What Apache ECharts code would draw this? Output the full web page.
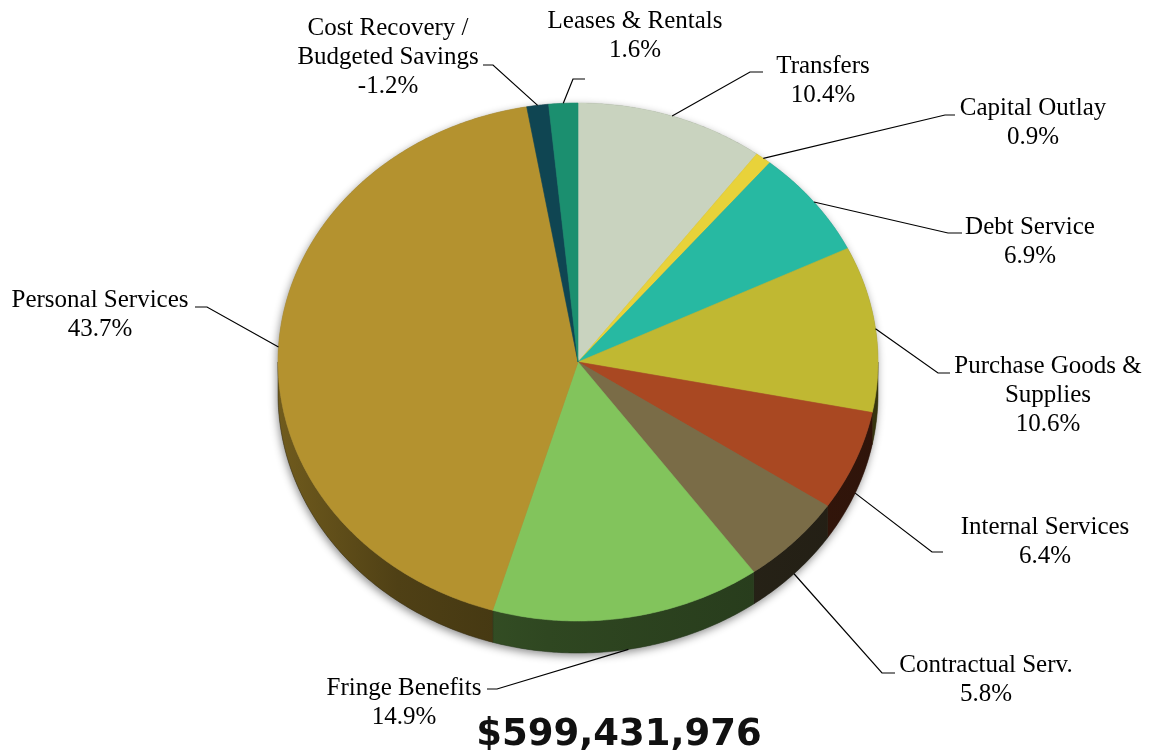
<!DOCTYPE html>
<html>
<head>
<meta charset="utf-8">
<script src="https://cdn.jsdelivr.net/npm/echarts@6/dist/echarts.min.js"></script>
<style>
  html, body { margin: 0; padding: 0; background: #ffffff; }
  #chart { width: 1151px; height: 754px; }
</style>
</head>
<body>
<div id="chart"></div>
<script>
// Budget shares by spending category, clockwise from 12 o'clock
const categories = [
  'Transfers',
  'Capital Outlay',
  'Debt Service',
  'Purchase Goods &\nSupplies',
  'Internal Services',
  'Contractual Serv.',
  'Fringe Benefits',
  'Personal Services',
  'Cost Recovery /\nBudgeted Savings',
  'Leases & Rentals'
];
const shares = [10.4, 0.9, 6.9, 10.6, 6.4, 5.8, 14.9, 43.7, -1.2, 1.6];
const totalLabel = '$599,431,976';

// Slice colours
const colors = [
  '#c9d3bf', '#e8d23a', '#27b9a2', '#c0b832', '#a94822',
  '#7a6c47', '#82c45c', '#b4922f', '#0f4552', '#1b8f6f'
];

// Label layout: centre x and centre y of the first text line
const labelPos = [
  [823, 66], [1033, 108], [1030, 227], [1048, 366], [1045, 527],
  [986, 665], [404, 688], [100, 300], [388, 28], [635, 21]
];
// Leader lines: elbow point and end of the short horizontal tail
const leaderElbow = [
  [750, 72], [945, 115], [948, 233], [938, 373], [932, 552],
  [882, 673], [497, 689], [207, 307], [493, 65], [573, 79]
];
const leaderEnd = [
  [763, 72], [955, 115], [962, 233], [950, 373], [943, 552],
  [895, 673], [487, 689], [195, 307], [483, 65], [585, 79]
];

// Tilted-disc geometry
const PIE = { cx: 578, cy: 362, rx: 300, ry: 259, depth: 32 };

const sizes = shares.map(v => Math.abs(v));

function arcs() {
  const sum = sizes.reduce((a, b) => a + b, 0);
  let acc = 0;
  return sizes.map(s => {
    const a0 = acc / sum * 360;
    acc += s;
    return [a0, acc / sum * 360];
  });
}
const ARCS = arcs();

// t: degrees clockwise from 12 o'clock on the tilted disc
function pt(t, dy) {
  const r = t * Math.PI / 180;
  return [PIE.cx + PIE.rx * Math.sin(r), PIE.cy - PIE.ry * Math.cos(r) + (dy || 0)];
}
function arcPoints(t0, t1, dy) {
  const pts = [];
  const n = Math.max(2, Math.ceil((t1 - t0) / 0.5));
  for (let i = 0; i <= n; i++) pts.push(pt(t0 + (t1 - t0) * i / n, dy));
  return pts;
}
function shade(hex, f) {
  const n = parseInt(hex.slice(1), 16);
  const r = Math.round(((n >> 16) & 255) * f);
  const g = Math.round(((n >> 8) & 255) * f);
  const b = Math.round((n & 255) * f);
  return 'rgb(' + r + ',' + g + ',' + b + ')';
}
function fmtPct(v) { return v.toFixed(1) + '%'; }

const chart = echarts.init(document.getElementById('chart'), null, { renderer: 'canvas' });

const seriesData = sizes.map((v, i) => ({ name: categories[i], value: v }));

chart.setOption({
  backgroundColor: '#ffffff',
  animation: false,
  graphic: [{
    type: 'text',
    x: 619,
    y: 735,
    style: {
      text: totalLabel,
      fontFamily: 'DejaVu Sans',
      fontWeight: 'bold',
      fontSize: 37,
      fill: '#111111',
      align: 'center',
      verticalAlign: 'middle'
    }
  }],
  series: [
    {
      // drop shadow and the rim (side wall) of the disc
      type: 'custom',
      coordinateSystem: 'none',
      z: 1,
      data: seriesData,
      renderItem: function (params, api) {
        const i = params.dataIndex;
        const [t0, t1] = ARCS[i];
        const children = [];
        if (i === 0) {
          const outline = arcPoints(-90, 90, 0).concat(arcPoints(90, 270, PIE.depth));
          children.push({
            type: 'polygon',
            z2: 0,
            shape: { points: outline },
            style: {
              fill: '#777777',
              shadowBlur: 8,
              shadowOffsetX: -1,
              shadowOffsetY: 3,
              shadowColor: 'rgba(0,0,0,0.45)'
            }
          });
        }
        const a = Math.max(t0, 90), b = Math.min(t1, 270);
        if (b > a) {
          const top = arcPoints(a, b, 0);
          const bottom = arcPoints(a, b, PIE.depth).reverse();
          const c = colors[i];
          children.push({
            type: 'polygon',
            z2: 1,
            shape: { points: top.concat(bottom) },
            style: {
              fill: new echarts.graphic.LinearGradient(
                PIE.cx - PIE.rx, 0, PIE.cx + PIE.rx, 0,
                [
                  { offset: 0, color: shade(c, 0.62) },
                  { offset: 0.2, color: shade(c, 0.44) },
                  { offset: 0.45, color: shade(c, 0.36) },
                  { offset: 1, color: shade(c, 0.28) }
                ],
                true
              ),
              stroke: shade(c, 0.3),
              lineWidth: 0.5
            }
          });
        }
        return { type: 'group', children: children };
      }
    },
    {
      // top faces, leader lines and labels
      type: 'custom',
      coordinateSystem: 'none',
      z: 2,
      data: seriesData,
      renderItem: function (params, api) {
        const i = params.dataIndex;
        const [t0, t1] = ARCS[i];
        const face = [[PIE.cx, PIE.cy]].concat(arcPoints(t0, t1, 0));
        const mid = (t0 + t1) / 2;
        const front = mid > 90 && mid < 270;
        const start = pt(mid, front ? PIE.depth : 0);
        const lp = labelPos[i];
        return {
          type: 'group',
          children: [
            {
              type: 'polygon',
              shape: { points: face },
              style: { fill: colors[i], stroke: colors[i], lineWidth: 0.6 }
            },
            {
              type: 'polyline',
              shape: { points: [start, leaderElbow[i], leaderEnd[i]] },
              style: { stroke: '#000000', lineWidth: 1.2, fill: null }
            },
            {
              type: 'text',
              x: lp[0],
              y: lp[1] - 14.5,
              style: {
                text: categories[i] + '\n' + fmtPct(shares[i]),
                fontFamily: 'Liberation Serif',
                fontSize: 25,
                lineHeight: 29,
                fill: '#000000',
                align: 'center',
                verticalAlign: 'top'
              }
            }
          ]
        };
      }
    }
  ]
});
</script>
</body>
</html>
